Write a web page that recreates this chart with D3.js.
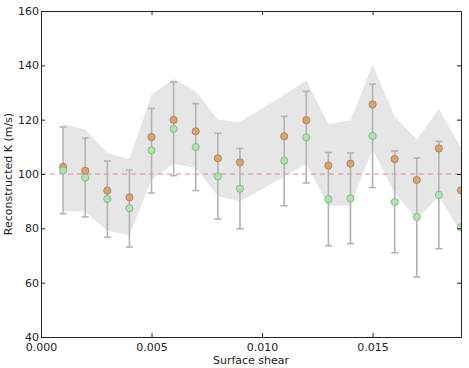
<!DOCTYPE html>
<html>
<head>
<meta charset="utf-8">
<script src="https://cdn.jsdelivr.net/npm/d3@7"></script>
<style>
  body { margin: 0; background: #fff; }
  text { font-family: "DejaVu Sans", sans-serif; }
</style>
</head>
<body>
<script>
let svgWidth = 469
let svgHeight = 368

// data
let shear = [0.001, 0.002, 0.003, 0.004, 0.005, 0.006, 0.007, 0.008, 0.009,
             0.011, 0.012, 0.013, 0.014, 0.015, 0.016, 0.017, 0.018, 0.019]
let kOrange = [102.6, 101.2, 93.9, 91.4, 113.6, 119.9, 115.7, 105.8, 104.3,
               113.9, 119.8, 103.1, 103.8, 125.6, 105.5, 97.8, 109.4, 94.0]
let kGreen = [101.3, 98.7, 90.8, 87.4, 108.7, 116.6, 109.9, 99.1, 94.6,
              104.9, 113.5, 90.7, 91.0, 114.0, 89.7, 84.2, 92.3, 80.4]
let errTop = [117.3, 113.3, 104.8, 101.5, 124.2, 133.9, 125.9, 115.0, 109.4,
              121.2, 130.4, 107.9, 107.7, 133.1, 108.5, 105.9, 112.0, null]
let errBottom = [85.4, 84.2, 76.7, 73.1, 93.0, 99.4, 93.9, 83.4, 79.8,
                 88.3, 96.7, 73.6, 74.4, 95.0, 71.0, 62.1, 72.5, null]
let bandUpper = [118.4, 116.3, 107.7, 105.5, 129.2, 135.1, 130.5, 120.0, 119.1,
                 129.2, 134.5, 118.4, 119.8, 140.2, 121.2, 112.6, 123.9, 109.6]
let bandLower = [86.3, 86.1, 79.1, 77.5, 98.0, 103.8, 102.2, 91.8, 89.9,
                 99.0, 103.8, 88.3, 88.3, 109.0, 93.0, 83.4, 91.8, 78.5]
let trueK = 100
let xTicks = [0, 0.005, 0.010, 0.015]
let yTicks = [40, 60, 80, 100, 120, 140, 160]

let mLeft = 41, mRight = 461, mTop = 11, mBottom = 337

let x = d3.scaleLinear().domain([0, 0.019]).range([mLeft, mRight])
let y = d3.scaleLinear().domain([40, 160]).range([mBottom, mTop])

let svg = d3.select("body")
    .append("svg")
    .attr("width", svgWidth)
    .attr("height", svgHeight)

svg.append("clipPath")
    .attr("id", "plotclip")
    .append("rect")
    .attr("x", mLeft)
    .attr("y", mTop)
    .attr("width", mRight - mLeft)
    .attr("height", mBottom - mTop)

let plot = svg.append("g").attr("clip-path", "url(#plotclip)")

let rows = shear.map((s, i) => ({
    s: s,
    orange: kOrange[i],
    green: kGreen[i],
    hi: errTop[i],
    lo: errBottom[i],
    up: bandUpper[i],
    dn: bandLower[i]
}))

// shaded band
plot.append("path")
    .datum(rows)
    .attr("fill", "#e6e6e6")
    .attr("d", d3.area()
        .x(d => x(d.s))
        .y0(d => y(d.dn))
        .y1(d => y(d.up)))

// true value
plot.append("line")
    .attr("x1", mLeft)
    .attr("x2", mRight)
    .attr("y1", y(trueK))
    .attr("y2", y(trueK))
    .attr("stroke", "#e08a8a")
    .attr("stroke-width", 1.2)
    .attr("stroke-dasharray", "5,4")

// error bars
let bars = plot.append("g")
    .selectAll("g")
    .data(rows.filter(d => d.hi != null))
    .enter()
    .append("g")
    .attr("stroke", "#b3b3b3")
    .attr("stroke-width", 1.6)

bars.append("line")
    .attr("x1", d => x(d.s))
    .attr("x2", d => x(d.s))
    .attr("y1", d => y(d.hi))
    .attr("y2", d => y(d.lo))

bars.selectAll(".cap")
    .data(d => [[d.s, d.hi], [d.s, d.lo]])
    .enter()
    .append("line")
    .attr("x1", d => x(d[0]) - 3.5)
    .attr("x2", d => x(d[0]) + 3.5)
    .attr("y1", d => y(d[1]))
    .attr("y2", d => y(d[1]))

// points
plot.append("g")
    .selectAll("circle")
    .data(rows)
    .enter()
    .append("circle")
    .attr("cx", d => x(d.s))
    .attr("cy", d => y(d.orange))
    .attr("r", 3.6)
    .attr("fill", "#dca36c")
    .attr("stroke", "#a07850")
    .attr("stroke-width", 0.8)

plot.append("g")
    .selectAll("circle")
    .data(rows)
    .enter()
    .append("circle")
    .attr("cx", d => x(d.s))
    .attr("cy", d => y(d.green))
    .attr("r", 3.6)
    .attr("fill", "#aee3ae")
    .attr("stroke", "#7fae80")
    .attr("stroke-width", 0.8)

// axes, ticks pointing inwards
let axisBottom = svg.append("g")
    .attr("transform", `translate(0,${mBottom})`)
    .call(d3.axisBottom(x).tickValues(xTicks).tickFormat(d3.format(".3f"))
        .tickSizeInner(-4).tickSizeOuter(0).tickPadding(6))
let axisTop = svg.append("g")
    .attr("transform", `translate(0,${mTop})`)
    .call(d3.axisTop(x).tickValues(xTicks).tickFormat("")
        .tickSizeInner(-4).tickSizeOuter(0))
let axisLeft = svg.append("g")
    .attr("transform", `translate(${mLeft},0)`)
    .call(d3.axisLeft(y).tickValues(yTicks).tickFormat(d3.format("d"))
        .tickSizeInner(-4).tickSizeOuter(0).tickPadding(2))
let axisRight = svg.append("g")
    .attr("transform", `translate(${mRight},0)`)
    .call(d3.axisRight(y).tickValues(yTicks).tickFormat("")
        .tickSizeInner(-4).tickSizeOuter(0))

for (let a of [axisBottom, axisTop, axisLeft, axisRight]) {
    a.select(".domain").attr("stroke", "#222").attr("stroke-width", 1)
    a.selectAll(".tick line").attr("stroke", "#222")
    a.selectAll("text")
        .attr("font-size", 11)
        .attr("fill", "#222")
        .attr("font-family", "DejaVu Sans")
}

// axis titles
svg.append("text")
    .attr("x", (mLeft + mRight) / 2)
    .attr("y", 364)
    .attr("text-anchor", "middle")
    .attr("font-size", 11)
    .attr("fill", "#222")
    .text("Surface shear")

svg.append("text")
    .attr("transform", `translate(12,${(mTop + mBottom) / 2}) rotate(-90)`)
    .attr("text-anchor", "middle")
    .attr("font-size", 11)
    .attr("fill", "#222")
    .text("Reconstructed K (m/s)")
</script>
</body>
</html>
